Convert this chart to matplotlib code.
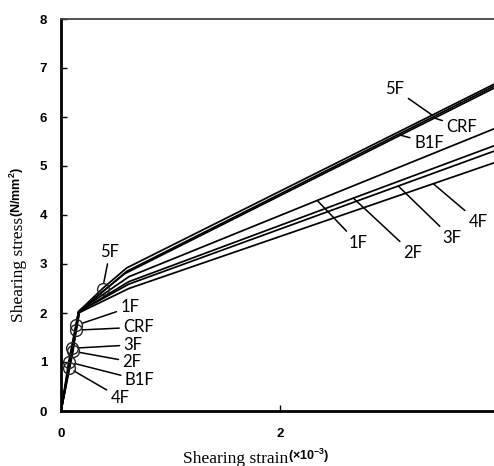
import numpy as np
import matplotlib
matplotlib.use('Agg')
import matplotlib.pyplot as plt

# specimen names
labels = ['5F', 'CRF', 'B1F', '1F', '2F', '3F', '4F']

# first crack point (circle), yield point, second knee, end of test
crack_strain = [0.38, 0.14, 0.07, 0.14, 0.11, 0.10, 0.07]
crack_stress = [2.50, 1.65, 1.00, 1.75, 1.22, 1.28, 0.88]
yield_strain = [0.17, 0.17, 0.16, 0.17, 0.16, 0.16, 0.16]
yield_stress = [2.05, 2.04, 2.03, 2.05, 2.02, 2.02, 2.00]
knee_strain = [0.60, 0.60, 0.58, 0.62, 0.62, 0.62, 0.62]
knee_stress = [2.92, 2.85, 2.80, 2.74, 2.64, 2.59, 2.50]
end_strain = [4.0, 4.0, 4.0, 4.0, 4.0, 4.0, 4.0]
end_stress = [6.72, 6.68, 6.64, 5.80, 5.45, 5.34, 5.10]

xticks = [0, 2, 4]
yticks = [0, 1, 2, 3, 4, 5, 6, 7, 8]

plt.rcParams['mathtext.fontset'] = 'custom'
plt.rcParams['mathtext.rm'] = 'Liberation Sans:bold'
plt.rcParams['mathtext.default'] = 'rm'

W, H = 494, 466
fig = plt.figure(figsize=(W / 100, H / 100), dpi=100)
ax = fig.add_axes([61 / W, 1 - 411 / H, 438 / W, 392 / H])
ax.set_xlim(0, 4)
ax.set_ylim(0, 8)

curves = {}
for i, name in enumerate(labels):
    pts = sorted([(0.0, 0.0),
                  (crack_strain[i], crack_stress[i]),
                  (yield_strain[i], yield_stress[i]),
                  (knee_strain[i], knee_stress[i]),
                  (end_strain[i], end_stress[i])])
    xs = np.array([p[0] for p in pts])
    ys = np.array([p[1] for p in pts])
    curves[name] = (xs, ys)
    ax.plot(xs, ys, color='black', lw=1.25, solid_joinstyle='round')
    ax.plot(crack_strain[i], crack_stress[i], 'o', mfc='none', mec='#222222',
            ms=8.5, mew=1.0, zorder=5)

lab_font = dict(family='Lato', fontsize=12, color='black', ha='center', va='center')
arrow = dict(arrowstyle='-', lw=1.1, color='black', shrinkA=1, shrinkB=4.5)
arrow2 = dict(arrowstyle='-', lw=1.1, color='black', shrinkA=1, shrinkB=0)

# labels near the first-crack circles
left_text = {'5F': (0.447, 3.25), '1F': (0.63, 2.12), 'CRF': (0.71, 1.71),
             '3F': (0.66, 1.35), '2F': (0.65, 1.00), 'B1F': (0.72, 0.63),
             '4F': (0.54, 0.27)}
for i, name in enumerate(labels):
    ax.annotate(name, xy=(crack_strain[i], crack_stress[i]),
                xytext=left_text[name], arrowprops=arrow, **lab_font)

# labels along the post-yield branch
right_text = {'5F': (3.05, 6.57, 3.39), 'CRF': (3.66, 5.80, 3.39),
              'B1F': (3.36, 5.47, 3.10), '1F': (2.71, 3.43, 2.34),
              '2F': (3.21, 3.22, 2.67), '3F': (3.57, 3.53, 3.08),
              '4F': (3.81, 3.86, 3.40)}
for name in labels:
    tx, ty, sx = right_text[name]
    xs, ys = curves[name]
    ax.annotate(name, xy=(sx, np.interp(sx, xs, ys)), xytext=(tx, ty),
                arrowprops=arrow2, **lab_font)

# axes styling
ax.spines['left'].set_linewidth(2)
ax.spines['bottom'].set_linewidth(2)
ax.spines['top'].set_linewidth(1.3)
ax.spines['top'].set_color('#444444')
ax.spines['right'].set_visible(False)
ax.set_xticks(xticks)
ax.set_xticklabels(['0', '2', ''])
ax.set_yticks(yticks)
ax.tick_params(direction='in', length=4, width=1, top=False, right=False)
ax.tick_params(axis='y', pad=10)
ax.tick_params(axis='x', pad=12)
for t in ax.get_xticklabels() + ax.get_yticklabels():
    t.set_fontfamily('Liberation Sans')
    t.set_fontweight('bold')
    t.set_fontsize(9.5)

# axis titles: serif words plus bold sans units
fig.text(19 / W, 1 - 217 / H, 'Shearing stress', family='Liberation Serif',
         fontsize=12.5, rotation=90, ha='center', va='top')
fig.text(17 / W, 1 - 217 / H, '(N/mm$^2$)', family='Liberation Sans',
         fontweight='bold', fontsize=9, rotation=90, ha='center', va='bottom')
fig.text(288 / W, 1 - 459 / H, 'Shearing strain', family='Liberation Serif',
         fontsize=12.5, ha='right', va='center')
fig.text(288 / W, 1 - 456 / H, '(×10$^{-3}$)', family='Liberation Sans',
         fontweight='bold', fontsize=9, ha='left', va='center')

fig.savefig('out.png', dpi=100)
